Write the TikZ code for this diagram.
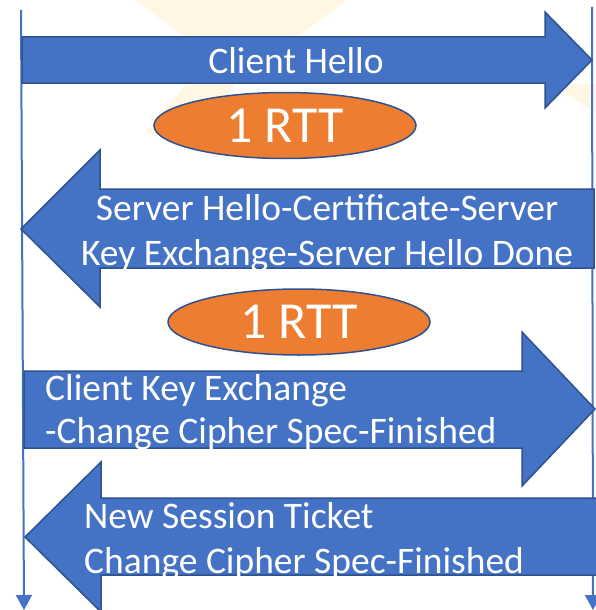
\documentclass[tikz,border=0pt]{standalone}
\usepackage{fontspec}
\setmainfont{Carlito}
\usetikzlibrary{arrows.meta,shapes.geometric}
\definecolor{msgblue}{HTML}{4472C4}
\definecolor{msgedge}{HTML}{2F528F}
\definecolor{rttorange}{HTML}{ED7D31}
\definecolor{watermark}{HTML}{FFF7E3}

\begin{document}
\begin{tikzpicture}[x=1pt,y=-1pt,
  lifeline/.style={draw=msgblue,line width=2pt,-{Triangle[length=15pt,width=16pt]}},
  msg/.style={fill=msgblue,draw=msgedge,line width=1.5pt,line join=miter},
  msgtext/.style={text=white,inner sep=0pt,font=\fontsize{37.5}{45}\selectfont},
  rtt/.style={ellipse,fill=rttorange,draw=msgedge,line width=1.5pt,
    minimum width=262pt,minimum height=66pt,inner sep=0pt,
    text=white,font=\fontsize{52}{60}\selectfont}
]
\useasboundingbox (0,0) rectangle (596,610);
\clip (0,0) rectangle (596,610);

% faint background logo rays
\fill[watermark] (135,0) -- (347,0) -- (241,79) -- cycle;
\fill[watermark] (145,134) -- (186,84) -- (235,84) -- (200,134) -- cycle;
\fill[watermark] (552,84) -- (598,84) -- (598,114) -- cycle;

% client and server lifelines
\coordinate (clientTop) at (21,10);
\coordinate (clientBottom) at (24,610);
\coordinate (serverTop) at (592,7);
\coordinate (serverBottom) at (593,610);
\draw[lifeline] (clientTop) -- (clientBottom);
\draw[lifeline] (serverTop) -- (serverBottom);

% message 1: client -> server
\draw[msg] (22,37) -- (545,37) -- (545,12) -- (592,60) -- (545,108) -- (545,83) -- (22,83) -- cycle;
\node[msgtext,anchor=base] (hello) at (296,74) {Client Hello};

% message 2: server -> client
\draw[msg] (594,189) -- (100,189) -- (100,150) -- (21,229) -- (100,307) -- (100,268) -- (594,268) -- cycle;
\node[msgtext,anchor=base] (srvA) at (327,220) {Server Hello-Certificate-Server};
\node[msgtext,anchor=base] (srvB) at (327,265) {Key Exchange-Server Hello Done};

% message 3: client -> server
\draw[msg] (24,371) -- (522,371) -- (522,332) -- (595,409) -- (522,486) -- (522,448) -- (24,448) -- cycle;
\node[msgtext,anchor=base west] (ckeA) at (45,400) {Client Key Exchange};
\node[msgtext,anchor=base west] (ckeB) at (45,443) {-Change Cipher Spec-Finished};

% message 4: server -> client
\draw[msg] (598,498) -- (101,498) -- (101,462) -- (25,537) -- (101,612) -- (101,575) -- (598,575) -- cycle;
\node[msgtext,anchor=base west] (nstA) at (84,528) {New Session Ticket};
\node[msgtext,anchor=base west] (nstB) at (84,573) {Change Cipher Spec-Finished};

% round trips
\node[rtt] (rttA) at (285,125.5) {1 RTT};
\node[rtt] (rttB) at (299,322) {1 RTT};
\end{tikzpicture}
\end{document}
